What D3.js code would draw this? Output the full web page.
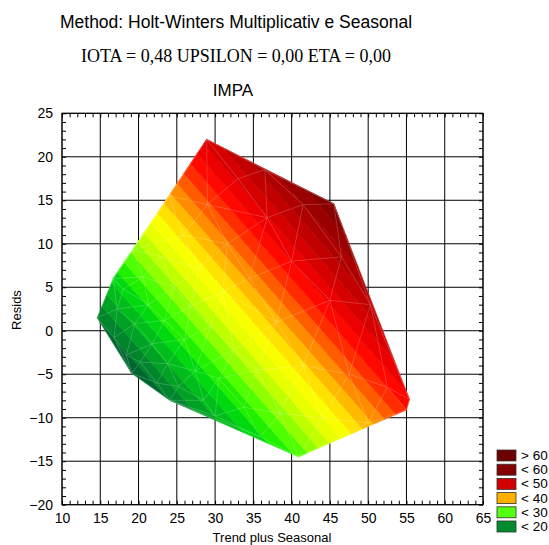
<!DOCTYPE html>
<html lang="en">
<head>
<meta charset="UTF-8">
<title>IMPA</title>
<script src="https://d3js.org/d3.v7.min.js"></script>
<style>
  body { margin: 0; background: #fff; }
  svg text { font-family: 'Liberation Sans', Arial, sans-serif; fill: #000; }
  .serif { font-family: 'Liberation Serif', 'Times New Roman', serif; }
</style>
</head>
<body>
<div id="chart"></div>
<script>
// data points: fitted (trend plus seasonal), residual, observed IMPA
const trend = [14.6, 16.7, 19.3, 24.0, 28.9, 36.5, 45.5, 50.3, 55.4, 55.0, 50.0, 40.9, 35.9, 30.0, 24.1, 19.1,
  16.8, 17.2, 18.0, 18.4, 19.5, 20.2, 20.6, 21.3, 21.8, 22.4, 22.9, 23.4, 23.8, 24.6, 25.2, 25.8, 26.0, 26.8,
  27.4, 27.9, 28.5, 29.0, 29.4, 30.5, 31.0, 31.6, 32.5, 33.0, 33.8, 34.5, 35.5, 36.8, 38.0, 38.5, 40.0, 41.5,
  41.5, 44.0, 45.0, 47.5, 46.5, 52.5];
const resid = [1.5, 6.0, 9.3, 15.5, 22.0, 18.5, 14.6, 3.0, -7.9, -9.1, -10.6, -14.5, -12.2, -9.8, -8.0, -4.9,
  -0.8, 2.5, 4.8, -2.8, 0.8, -3.6, 6.2, 3.0, -1.5, -6.0, 8.5, 1.2, -3.8, 5.0, -6.4, 11.0, -1.0, 2.8,
  -4.6, 7.2, -8.0, 14.5, 0.5, -5.5, 4.5, 10.0, -2.2, 17.5, -8.8, 6.0, -4.5, 13.0, 1.0, -9.5, 8.0, -4.0,
  14.5, -10.0, 3.5, -5.0, 8.5, -6.5];
const impa = [16.1, 22.7, 28.6, 39.5, 50.9, 55.0, 60.1, 53.3, 47.5, 45.9, 39.4, 26.4, 23.7, 20.2, 16.1, 14.2,
  16.0, 19.7, 22.8, 15.6, 20.3, 16.6, 26.8, 24.3, 20.3, 16.4, 31.4, 24.6, 20.0, 29.6, 18.8, 36.8, 25.0, 29.6,
  22.8, 35.1, 20.5, 43.5, 29.9, 25.0, 35.5, 41.6, 30.3, 50.5, 25.0, 40.5, 31.0, 49.8, 39.0, 29.0, 48.0, 37.5,
  56.0, 34.0, 48.5, 42.5, 55.0, 46.0];

const xTicks = [10, 15, 20, 25, 30, 35, 40, 45, 50, 55, 60, 65];
const yTicks = [-20, -15, -10, -5, 0, 5, 10, 15, 20, 25];
const xMinor = d3.range(10, 65.5, 1);
const yMinor = d3.range(-20, 25.5, 1);

const legendLabels = ["> 60", "< 60", "< 50", "< 40", "< 30", "< 20"];
const legendColors = ["#6e0000", "#840000", "#d20000", "#ffb000", "#55ff10", "#008c2c"];

// colour ramp of the shaded bands
const rampStops = [14, 17, 20, 23, 25, 27, 29, 31, 33, 35.5, 37.5, 39.5, 41.5, 43.5, 45.5, 47.5, 50, 54, 58, 62];
const rampColors = ["#005a30", "#00842c", "#00b020", "#00d810", "#20f000", "#50ff00", "#90ff00", "#c0ff00",
  "#e8ff00", "#ffff00", "#ffd800", "#ffb000", "#ff8000", "#ff5000", "#ff2000", "#ff0000", "#e00000",
  "#b80000", "#900000", "#700000"];
const bandStep = 2;

const W = 549, H = 545;
const x = d3.scaleLinear().domain([10, 65]).range([62, 483]);
const y = d3.scaleLinear().domain([-20, 25]).range([504.7, 113.3]);
const ramp = d3.scaleLinear().domain(rampStops).range(rampColors).clamp(true);

const svg = d3.select("#chart").append("svg")
    .attr("width", W)
    .attr("height", H);

// titles
svg.append("text").attr("x", 236).attr("y", 28).attr("text-anchor", "middle")
    .style("font-size", "17.5px").text("Method: Holt-Winters Multiplicativ e Seasonal");
svg.append("text").attr("class", "serif").attr("x", 236).attr("y", 62).attr("text-anchor", "middle")
    .style("font-size", "18px").text("IOTA = 0,48 UPSILON = 0,00 ETA = 0,00");
svg.append("text").attr("x", 233).attr("y", 96).attr("text-anchor", "middle")
    .style("font-size", "17px").text("IMPA");

// grid
const grid = svg.append("g");
grid.selectAll(".gx").data(xTicks).enter().append("line")
    .attr("x1", d => x(d)).attr("x2", d => x(d))
    .attr("y1", y(-20)).attr("y2", y(25))
    .attr("stroke", "#000").attr("stroke-width", 1);
grid.selectAll(".gy").data(yTicks).enter().append("line")
    .attr("y1", d => y(d)).attr("y2", d => y(d))
    .attr("x1", x(10)).attr("x2", x(65))
    .attr("stroke", "#000").attr("stroke-width", 1);

// surface: delaunay triangles cut into bands of IMPA
const pts = trend.map((t, i) => [t, resid[i], impa[i]]);
const delaunay = d3.Delaunay.from(pts, d => x(d[0]), d => y(d[1]));
const tris = [];
for (let i = 0; i < delaunay.triangles.length; i += 3) {
    tris.push([pts[delaunay.triangles[i]], pts[delaunay.triangles[i + 1]], pts[delaunay.triangles[i + 2]]]);
}

function clipHalf(poly, f) {
    const out = [];
    for (let i = 0; i < poly.length; i++) {
        const a = poly[i], b = poly[(i + 1) % poly.length];
        const fa = f(a), fb = f(b);
        if (fa >= 0) out.push(a);
        if ((fa >= 0) !== (fb >= 0)) {
            const t = fa / (fa - fb);
            out.push([a[0] + t * (b[0] - a[0]), a[1] + t * (b[1] - a[1]), a[2] + t * (b[2] - a[2])]);
        }
    }
    return out;
}

const zMin = d3.min(impa), zMax = d3.max(impa);
const bands = d3.range(Math.floor(zMin / bandStep) * bandStep, zMax + bandStep, bandStep);
const line = d3.line().x(d => x(d[0])).y(d => y(d[1]));
const surf = svg.append("g");
bands.forEach(lo => {
    const hi = lo + bandStep;
    const c = ramp(lo + bandStep / 2);
    tris.forEach(tri => {
        let p = clipHalf(tri, d => d[2] - lo);
        if (p.length < 3) return;
        p = clipHalf(p, d => hi - d[2]);
        if (p.length < 3) return;
        surf.append("path")
            .attr("d", line(p) + "Z")
            .attr("fill", c)
            .attr("stroke", c)
            .attr("stroke-width", 0.6);
    });
});

// mesh
svg.append("path")
    .attr("d", delaunay.render())
    .attr("fill", "none")
    .attr("stroke", "#fff")
    .attr("stroke-opacity", 0.25)
    .attr("stroke-width", 0.6);

// frame and ticks
svg.append("rect")
    .attr("x", x(10)).attr("y", y(25))
    .attr("width", x(65) - x(10)).attr("height", y(-20) - y(25))
    .attr("fill", "none").attr("stroke", "#000");

function minorAxis(axis, tr) {
    svg.append("g").attr("transform", tr).call(axis.tickSize(-4).tickFormat(""))
        .call(g => g.select(".domain").remove());
}
minorAxis(d3.axisBottom(x).tickValues(xMinor), `translate(0,${y(-20)})`);
minorAxis(d3.axisTop(x).tickValues(xMinor), `translate(0,${y(25)})`);
minorAxis(d3.axisLeft(y).tickValues(yMinor), `translate(${x(10)},0)`);
minorAxis(d3.axisRight(y).tickValues(yMinor), `translate(${x(65)},0)`);

const xAxis = svg.append("g").attr("transform", `translate(0,${y(-20)})`)
    .call(d3.axisBottom(x).tickValues(xTicks).tickSize(0).tickPadding(8));
const yAxis = svg.append("g").attr("transform", `translate(${x(10)},0)`)
    .call(d3.axisLeft(y).tickValues(yTicks).tickSize(0).tickPadding(9));
[xAxis, yAxis].forEach(g => {
    g.select(".domain").remove();
    g.selectAll("text").style("font-size", "14px").style("font-family", "'Liberation Sans', Arial, sans-serif");
});

svg.append("text").attr("x", 272).attr("y", 542).attr("text-anchor", "middle")
    .style("font-size", "13px").text("Trend plus Seasonal");
svg.append("text").attr("transform", "translate(21,310) rotate(-90)").attr("text-anchor", "middle")
    .style("font-size", "13px").text("Resids");

// legend
const leg = svg.append("g").attr("transform", "translate(497,450)");
const rows = leg.selectAll("g").data(legendLabels).enter().append("g")
    .attr("transform", (d, i) => `translate(0,${i * 14.2})`);
rows.append("rect").attr("width", 19).attr("height", 11)
    .attr("fill", (d, i) => legendColors[i]).attr("stroke", "#333").attr("stroke-width", 0.8);
rows.append("text").attr("x", 24).attr("y", 10).style("font-size", "13.5px").text(d => d);
</script>
</body>
</html>
